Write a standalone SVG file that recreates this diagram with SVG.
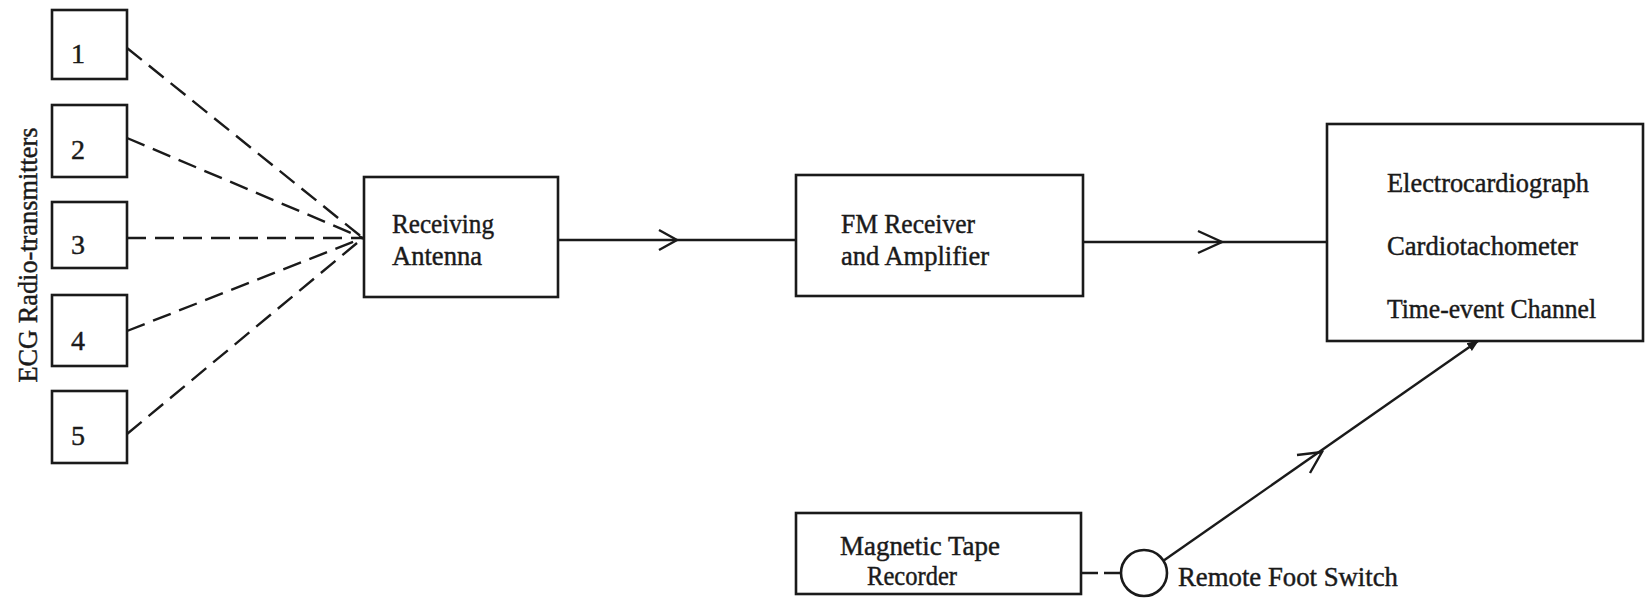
<svg xmlns="http://www.w3.org/2000/svg" width="1648" height="603" viewBox="0 0 1648 603">
  <style>
    .box { fill: #fff; stroke: #1a1a1a; stroke-width: 2.6; }
    .lbl { font-family: "Liberation Serif", "Times New Roman", serif; font-size: 28px; fill: #1a1a1a; stroke: #1a1a1a; stroke-width: 0.45; }
    .num { font-family: "Liberation Serif", "Times New Roman", serif; font-size: 28px; fill: #1a1a1a; stroke: #1a1a1a; stroke-width: 0.45; text-anchor: middle; }
    .wire { fill: none; stroke: #1a1a1a; stroke-width: 2.4; }
    .dash { fill: none; stroke: #1a1a1a; stroke-width: 2.4; stroke-dasharray: 19 9; }
    .chev { fill: none; stroke: #1a1a1a; stroke-width: 2.4; stroke-linejoin: miter; }
  </style>
  <defs>
    <marker id="tip" viewBox="0 0 10 10" refX="9" refY="5" markerWidth="5" markerHeight="5" orient="auto">
      <path d="M0,1 L10,5 L0,9 z" fill="#1a1a1a"/>
    </marker>
  </defs>
  <rect width="1648" height="603" fill="#fff"/>

  <!-- side caption for the transmitter column -->
  <text class="lbl" transform="translate(37,255) rotate(-90)" text-anchor="middle" textLength="255" lengthAdjust="spacingAndGlyphs">ECG Radio-transmitters</text>

  <!-- transmitters -->
  <g id="tx1"><rect class="box" x="52" y="10" width="75" height="69"/><text class="num" x="78" y="63">1</text></g>
  <g id="tx2"><rect class="box" x="52" y="105" width="75" height="72"/><text class="num" x="78" y="159">2</text></g>
  <g id="tx3"><rect class="box" x="52" y="202" width="75" height="66"/><text class="num" x="78" y="254">3</text></g>
  <g id="tx4"><rect class="box" x="52" y="295" width="75" height="71"/><text class="num" x="78" y="350">4</text></g>
  <g id="tx5"><rect class="box" x="52" y="391" width="75" height="72"/><text class="num" x="78" y="445">5</text></g>

  <!-- processing chain -->
  <g id="antenna">
    <rect class="box" x="364" y="177" width="194" height="120"/>
    <text class="lbl" x="392" y="233" textLength="102" lengthAdjust="spacingAndGlyphs">Receiving</text>
    <text class="lbl" x="392" y="265" textLength="90" lengthAdjust="spacingAndGlyphs">Antenna</text>
  </g>
  <g id="fm-receiver">
    <rect class="box" x="796" y="175" width="287" height="121"/>
    <text class="lbl" x="841" y="233" textLength="134" lengthAdjust="spacingAndGlyphs">FM Receiver</text>
    <text class="lbl" x="841" y="265" textLength="148" lengthAdjust="spacingAndGlyphs">and Amplifier</text>
  </g>
  <g id="recorder-outputs">
    <rect class="box" x="1327" y="124" width="316" height="217"/>
    <text class="lbl" x="1387" y="192" textLength="202" lengthAdjust="spacingAndGlyphs">Electrocardiograph</text>
    <text class="lbl" x="1387" y="255" textLength="191" lengthAdjust="spacingAndGlyphs">Cardiotachometer</text>
    <text class="lbl" x="1387" y="318" textLength="209" lengthAdjust="spacingAndGlyphs">Time-event Channel</text>
  </g>
  <g id="tape-recorder">
    <rect class="box" x="796" y="513" width="285" height="81"/>
    <text class="lbl" x="840" y="555" textLength="160" lengthAdjust="spacingAndGlyphs">Magnetic Tape</text>
    <text class="lbl" x="867" y="585" textLength="90" lengthAdjust="spacingAndGlyphs">Recorder</text>
  </g>
  <g id="foot-switch">
    <circle cx="1144" cy="573" r="23" fill="#fff" stroke="#1a1a1a" stroke-width="2.6"/>
    <text class="lbl" x="1178" y="586" textLength="220" lengthAdjust="spacingAndGlyphs">Remote Foot Switch</text>
  </g>

  <g id="connectors">
    <!-- radio links from each transmitter to the antenna -->
    <path class="dash" d="M127,48 L363,238"/>
    <path class="dash" d="M127,138 L363,238"/>
    <path class="dash" d="M127,238 L363,238"/>
    <path class="dash" d="M127,331 L363,238"/>
    <path class="dash" d="M127,434 L363,238"/>

    <!-- antenna to FM receiver -->
    <path class="wire" d="M558,240 L796,240"/>
    <path class="chev" d="M659,230 L677,240 L659,250"/>

    <!-- FM receiver to recorder outputs -->
    <path class="wire" d="M1083,242 L1327,242"/>
    <path class="chev" d="M1198,231 L1222,242 L1198,253"/>

    <!-- tape recorder to foot switch -->
    <path class="wire" d="M1081,573 L1098,573 M1104,573 L1121,573"/>

    <!-- foot switch to time-event channel -->
    <path class="wire" d="M1163,561 L1478,341" marker-end="url(#tip)"/>
    <path class="chev" d="M1297,455 L1322,452 L1310,473"/>
  </g>
</svg>
